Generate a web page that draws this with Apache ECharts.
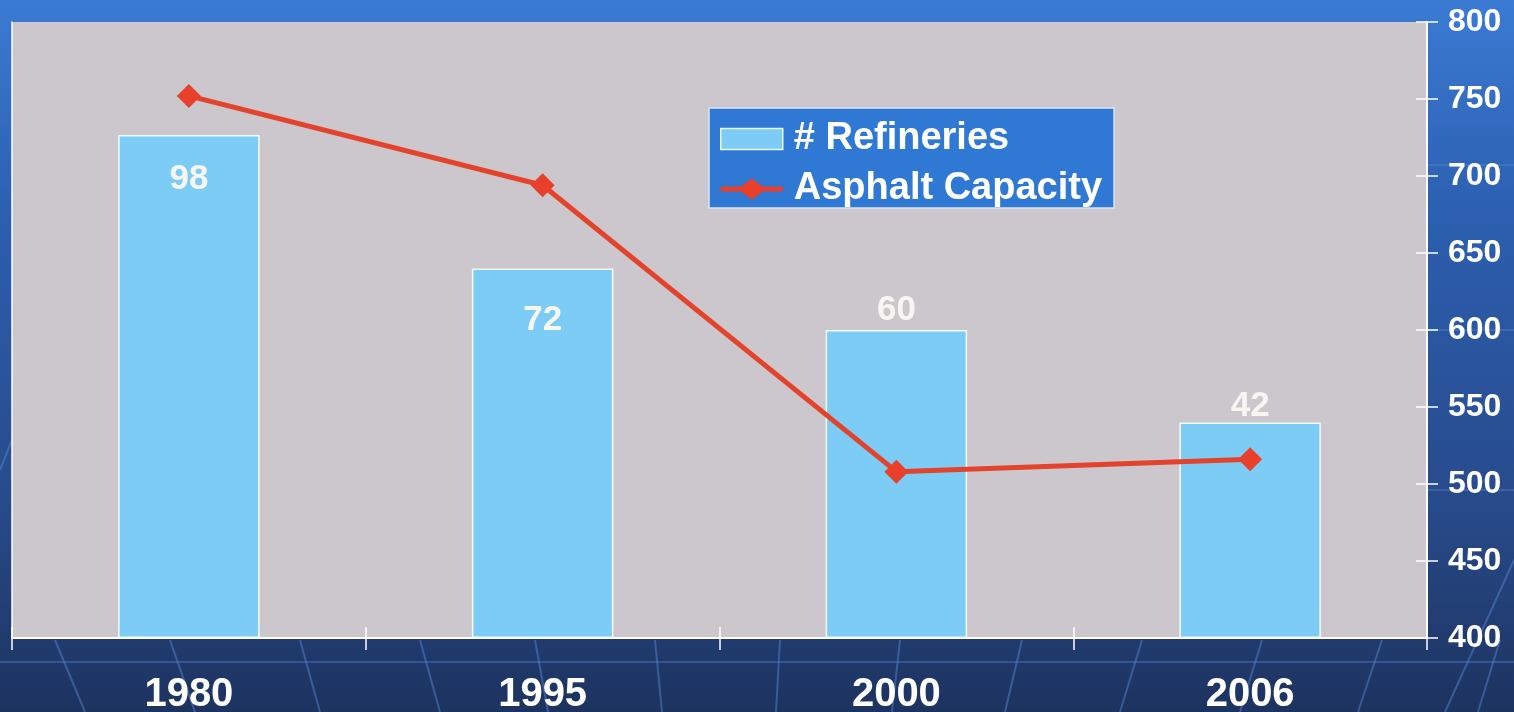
<!DOCTYPE html>
<html>
<head>
<meta charset="utf-8">
<script src="https://cdn.jsdelivr.net/npm/echarts@6/dist/echarts.min.js"></script>
<style>
html,body{margin:0;padding:0;width:1514px;height:712px;overflow:hidden;}
#c{width:1514px;height:712px;}
</style>
</head>
<body>
<div id="c"></div>
<script>
var categories = ['1980', '1995', '2000', '2006'];
var refineries = [98, 72, 60, 42];
var asphaltCapacity = [752, 694, 508, 516];
var capacityTicks = [400, 450, 500, 550, 600, 650, 700, 750, 800];

var labelPlace = ['insideTop', 'insideTop', 'top', 'top'];
var labelDist = [27, 34, 2, -1];

var chart = echarts.init(document.getElementById('c'));

var barData = refineries.map(function (v, i) {
  return { value: v, label: { position: labelPlace[i], distance: labelDist[i] } };
});

// decorative background lines
var deco = [];
var bottomLines = [[55,85],[170,195],[300,320],[420,440],[535,548],[655,662],[780,776],[900,892],[1022,1005],[1142,1120],[1262,1240],[1382,1358],[1500,1478]];
bottomLines.forEach(function (p) {
  deco.push({ type: 'line', silent: true, z: -1,
    shape: { x1: p[0], y1: 640, x2: p[1], y2: 712 },
    style: { stroke: 'rgba(90,140,220,0.45)', lineWidth: 2 } });
});
[[0,662,1514,662],[1427,165,1514,165],[1427,330,1514,330],[1427,490,1514,490]].forEach(function (s) {
  deco.push({ type: 'line', silent: true, z: -1,
    shape: { x1: s[0], y1: s[1], x2: s[2], y2: s[3] },
    style: { stroke: 'rgba(90,140,220,0.35)', lineWidth: 2 } });
});
[[1445,712,1514,560],[0,470,12,440]].forEach(function (s) {
  deco.push({ type: 'line', silent: true, z: -1,
    shape: { x1: s[0], y1: s[1], x2: s[2], y2: s[3] },
    style: { stroke: 'rgba(90,140,220,0.45)', lineWidth: 2 } });
});

var option = {
  animation: false,
  backgroundColor: {
    type: 'linear', x: 0, y: 0, x2: 0, y2: 1,
    colorStops: [
      { offset: 0, color: '#3b7bd3' },
      { offset: 0.3, color: '#2c5fb0' },
      { offset: 0.7, color: '#284b8c' },
      { offset: 1, color: '#1d335f' }
    ]
  },
  graphic: deco,
  grid: {
    left: 12, right: 87, top: 22, bottom: 74,
    outerBoundsMode: 'none',
    containLabel: false,
    show: true, backgroundColor: '#ccc7cc', borderWidth: 0
  },
  legend: {
    orient: 'vertical',
    left: 709, top: 108,
    padding: [12, 12, 0, 11],
    backgroundColor: '#2f78d3',
    borderColor: '#d6e6f6',
    borderWidth: 1.5,
    borderRadius: 0,
    itemWidth: 62,
    itemHeight: 21,
    itemGap: 12,
    textStyle: {
      color: '#ffffff', fontSize: 38, fontWeight: 'bold',
      fontFamily: 'Liberation Sans, Arial, sans-serif', lineHeight: 38, padding: [0, 0, 0, 6]
    },
    data: [
      { name: '# Refineries', icon: 'rect', itemStyle: { borderColor: '#e8f6ff', borderWidth: 1.5 } },
      { name: 'Asphalt Capacity', icon: 'path://M0,8 L20,8 L31,0 L42,8 L62,8 L62,13 L42,13 L31,21 L20,13 L0,13 Z', itemStyle: { color: '#e8402a', borderWidth: 0 } }
    ]
  },
  xAxis: [{
    type: 'category',
    data: categories,
    position: 'bottom',
    boundaryGap: true,
    axisLine: { show: true, lineStyle: { color: '#ffffff', width: 2 } },
    axisTick: { show: true, length: 12, lineStyle: { color: '#ffffff', width: 1.5 } },
    axisLabel: {
      color: '#ffffff', fontSize: 40, fontWeight: 'bold',
      fontFamily: 'Liberation Sans, Arial, sans-serif', margin: 37
    },
    splitLine: { show: false }
  }, {
    type: 'category',
    data: categories,
    position: 'bottom',
    offset: 0,
    boundaryGap: true,
    axisLine: { show: false },
    axisTick: { show: true, inside: true, length: 11, lineStyle: { color: '#ffffff', width: 1.5 } },
    axisLabel: { show: false },
    splitLine: { show: false }
  }],
  yAxis: [{
    type: 'value',
    position: 'left',
    min: 0, max: 120,
    axisLine: { show: true, lineStyle: { color: '#ffffff', width: 1.5 } },
    axisTick: { show: false },
    axisLabel: { show: false },
    splitLine: { show: false }
  }, {
    type: 'value',
    position: 'right',
    min: 400, max: 800, interval: 50,
    axisLine: { show: true, lineStyle: { color: '#ffffff', width: 2 } },
    axisTick: { show: true, length: 11, lineStyle: { color: '#ffffff', width: 1.5 } },
    axisLabel: {
      color: '#ffffff', fontSize: 32, fontWeight: 'bold',
      fontFamily: 'Liberation Sans, Arial, sans-serif', margin: 21,
      formatter: function (v) { return capacityTicks.indexOf(v) >= 0 ? String(v) : ''; }
    },
    splitLine: { show: false }
  }, {
    type: 'value',
    position: 'right',
    offset: 0,
    min: 400, max: 800, interval: 50,
    axisLine: { show: false },
    axisTick: { show: true, inside: true, length: 11, lineStyle: { color: '#ffffff', width: 1.5 } },
    axisLabel: { show: false },
    splitLine: { show: false }
  }],
  series: [{
    name: '# Refineries',
    type: 'bar',
    xAxisIndex: 0,
    yAxisIndex: 0,
    barWidth: '40%',
    itemStyle: { color: '#7dccf5', borderColor: '#f4fbff', borderWidth: 1.5 },
    label: {
      show: true, color: '#f6f6f2', fontSize: 35, fontWeight: 'bold',
      fontFamily: 'Liberation Sans, Arial, sans-serif'
    },
    data: barData
  }, {
    name: 'Asphalt Capacity',
    type: 'line',
    xAxisIndex: 0,
    yAxisIndex: 1,
    symbol: 'diamond',
    symbolSize: 24,
    lineStyle: { color: '#e4432b', width: 5 },
    itemStyle: { color: '#e8402a' },
    data: asphaltCapacity
  }]
};
chart.setOption(option);
</script>
</body>
</html>
